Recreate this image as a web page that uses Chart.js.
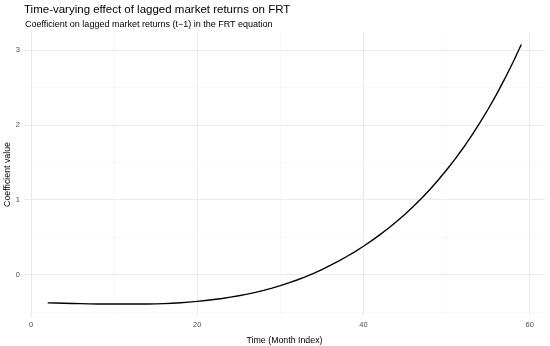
<!DOCTYPE html>
<html>
<head>
<meta charset="utf-8">
<script src="https://cdn.jsdelivr.net/npm/chart.js@4"></script>
<style>
  html, body { margin: 0; padding: 0; background: #fff; }
  #wrap { width: 550px; height: 346px; position: relative; }
</style>
</head>
<body>
<div id="wrap"><canvas id="coefChart"></canvas></div>
<script>
const months = [2, 3, 4, 5, 6, 7, 8, 9, 10, 11, 12, 13, 14, 15, 16, 17, 18, 19, 20,
  21, 22, 23, 24, 25, 26, 27, 28, 29, 30, 31, 32, 33, 34, 35, 36, 37, 38, 39, 40,
  41, 42, 43, 44, 45, 46, 47, 48, 49, 50, 51, 52, 53, 54, 55, 56, 57, 58, 59];
const coefValues = [-0.375, -0.377, -0.380, -0.383, -0.386, -0.389, -0.390, -0.391, -0.391,
  -0.391, -0.391, -0.391, -0.390, -0.389, -0.386, -0.381, -0.374, -0.365, -0.355,
  -0.344, -0.331, -0.316, -0.299, -0.280, -0.259, -0.235, -0.208, -0.178, -0.145,
  -0.109, -0.070, -0.028, 0.018, 0.070, 0.124, 0.182, 0.244, 0.310, 0.381,
  0.456, 0.536, 0.621, 0.712, 0.809, 0.913, 1.023, 1.140, 1.266, 1.399,
  1.542, 1.693, 1.855, 2.028, 2.211, 2.407, 2.616, 2.839, 3.076];
const xTicks = [0, 10, 20, 30, 40, 50, 60];
const xLabels = [0, 20, 40, 60];
const yTicks = [-0.5, 0, 0.5, 1, 1.5, 2, 2.5, 3];
const yLabels = [0, 1, 2, 3];

const chartTitle = 'Time-varying effect of lagged market returns on FRT';
const chartSubtitle = 'Coefficient on lagged market returns (t\u22121) in the FRT equation';

const fontFamily = '"Liberation Sans", Arial, sans-serif';

// titles drawn left-aligned with the panel, like ggplot
const titlePlugin = {
  id: 'ggTitles',
  afterDraw(chart) {
    const ctx = chart.ctx;
    ctx.save();
    ctx.fillStyle = '#000';
    ctx.textBaseline = 'middle';
    ctx.textAlign = 'left';
    ctx.font = '11.5px ' + fontFamily;
    ctx.fillText(chartTitle, 24, 9.5);
    ctx.font = '9px ' + fontFamily;
    ctx.fillText(chartSubtitle, 25, 24.5);
    ctx.restore();
  }
};

const gridColor = ctx => {
  const v = ctx.tick && ctx.tick.value;
  return (ctx.scale.axis === 'x' ? xLabels : yLabels).includes(v) ? '#ebebeb' : '#f4f4f4';
};
const gridWidth = ctx => {
  const v = ctx.tick && ctx.tick.value;
  return (ctx.scale.axis === 'x' ? xLabels : yLabels).includes(v) ? 1 : 0.6;
};

new Chart(document.getElementById('coefChart'), {
  type: 'line',
  data: {
    datasets: [{
      data: months.map((m, i) => ({ x: m, y: coefValues[i] })),
      borderColor: '#000',
      borderWidth: 1.4,
      pointRadius: 0,
      tension: 0,
      fill: false
    }]
  },
  options: {
    responsive: true,
    maintainAspectRatio: false,
    animation: false,
    layout: { padding: { top: 32, right: 5, left: 0, bottom: 0 } },
    plugins: {
      legend: { display: false },
      tooltip: { enabled: false }
    },
    scales: {
      x: {
        type: 'linear',
        min: -0.85,
        max: 61.85,
        afterBuildTicks: s => { s.ticks = xTicks.map(v => ({ value: v })); },
        afterFit: s => { s.height = 29; },
        border: { display: false },
        grid: { color: gridColor, lineWidth: gridWidth, drawTicks: false },
        ticks: {
          padding: 3,
          color: '#4d4d4d',
          font: { family: fontFamily, size: 7.5 },
          autoSkip: false,
          maxRotation: 0,
          callback: v => xLabels.includes(v) ? String(v) : ''
        },
        title: {
          display: true,
          text: 'Time (Month Index)',
          color: '#000',
          padding: { top: 6.5, bottom: 0 },
          font: { family: fontFamily, size: 8.8 }
        }
      },
      y: {
        type: 'linear',
        min: -0.564,
        max: 3.243,
        afterBuildTicks: s => { s.ticks = yTicks.map(v => ({ value: v })); },
        afterFit: s => { s.width = 24; },
        border: { display: false },
        grid: { color: gridColor, lineWidth: gridWidth, drawTicks: false },
        ticks: {
          padding: 4,
          color: '#4d4d4d',
          font: { family: fontFamily, size: 7.5 },
          autoSkip: false,
          callback: v => yLabels.includes(v) ? String(v) : ''
        },
        title: {
          display: true,
          text: 'Coefficient value',
          color: '#000',
          padding: { top: 2, bottom: 0 },
          font: { family: fontFamily, size: 8.8 }
        }
      }
    }
  },
  plugins: [titlePlugin]
});
</script>
</body>
</html>
